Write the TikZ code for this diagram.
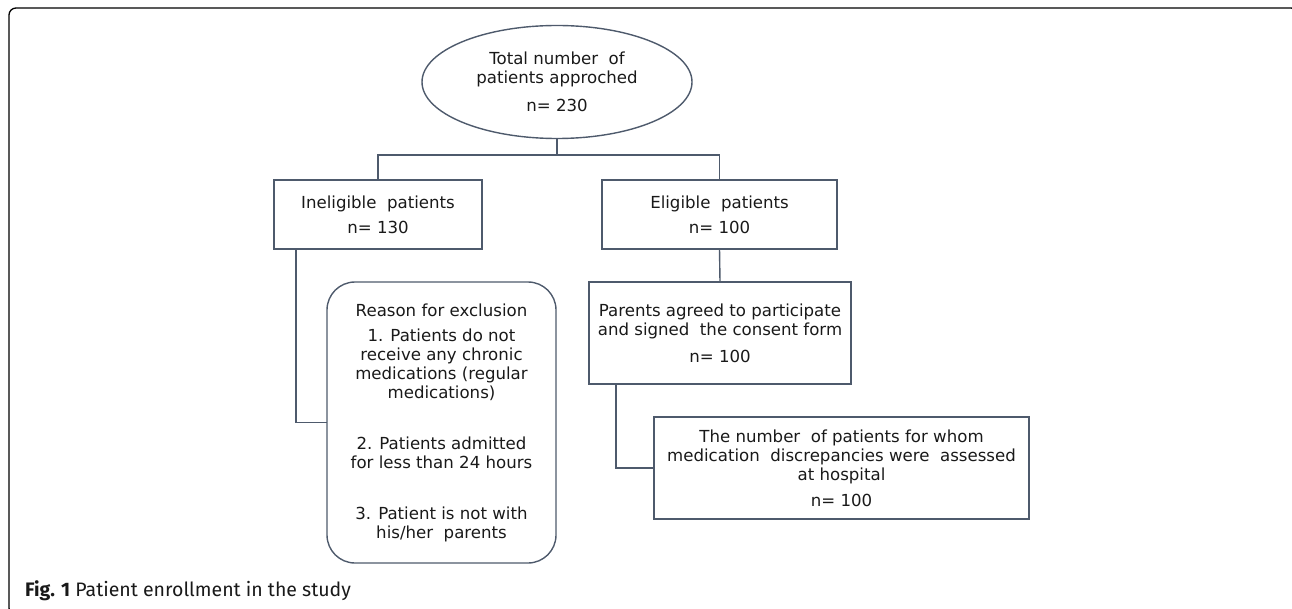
\documentclass[tikz,border=0pt]{standalone}
\usepackage{fontspec}
\setmainfont{DejaVu Sans}
\newfontfamily\capfont{Fira Sans}
\usetikzlibrary{shapes.geometric}
\definecolor{linec}{RGB}{78,90,108}
\definecolor{textc}{RGB}{25,25,25}
\tikzset{
  box/.style={draw=linec, line width=1.4pt, rectangle, inner sep=0pt, outer sep=0pt, align=center, text=textc, font=\fontsize{16.6}{19}\selectfont},
  ovalbox/.style={box, ellipse},
  roundbox/.style={box, rounded corners=28pt},
  conn/.style={draw=linec, line width=1.4pt},
  frame/.style={draw=black, line width=1.3pt, rounded corners=7pt}
}
\begin{document}
\begin{tikzpicture}[x=1pt, y=-1pt]
\useasboundingbox (0,0) rectangle (1292,609);
\begin{scope}
\clip (0,0) rectangle (1292,609);
\draw[frame] (9,8) rectangle (1298,615);
\end{scope}

\node[ovalbox, minimum width=270pt, minimum height=113pt] (tot) at (557,82)
  {Total number~ of\\patients approched\\[9pt]n= 230};
\node[box, minimum width=208pt, minimum height=69pt] (inel) at (378,214.5)
  {Ineligible~ patients\\[6pt]n= 130};
\node[box, minimum width=235pt, minimum height=69pt] (elig) at (719.5,214.5)
  {Eligible~ patients\\[6pt]n= 100};
\node[roundbox, minimum width=229pt, minimum height=281pt] (excl) at (441.5,422.5)
  {Reason for exclusion\\[6pt]1. Patients do not\\receive any chronic\\medications (regular\\medications)\\[32pt]2. Patients admitted\\for less than 24 hours\\[32pt]3. Patient is not with\\his/her~ parents};
\node[box, minimum width=262pt, minimum height=102pt] (par) at (720,333)
  {Parents agreed to participate\\and signed~ the consent form\\[8pt]n= 100};
\node[box, minimum width=375pt, minimum height=102pt] (fin) at (841.5,468)
  {The number~ of patients for whom\\medication~ discrepancies were~ assessed\\at hospital\\[7pt]n= 100};

\coordinate (split) at (557,155);
\draw[conn] (tot.south) -- (split);
\draw[conn] (split) -| (inel.north);
\draw[conn] (split) -| (elig.north);
\draw[conn] ([xshift=22pt]inel.south west) |- (excl.west);
\draw[conn] (elig.south) -- (par.north);
\draw[conn] ([xshift=27pt]par.south west) |- (fin.west);

\node[anchor=base west, inner sep=0pt, text=textc, font=\capfont\fontsize{19.5}{22}\selectfont] (cap) at (25,596)
  {\textbf{Fig. 1} Patient enrollment in the study};
\end{tikzpicture}
\end{document}
